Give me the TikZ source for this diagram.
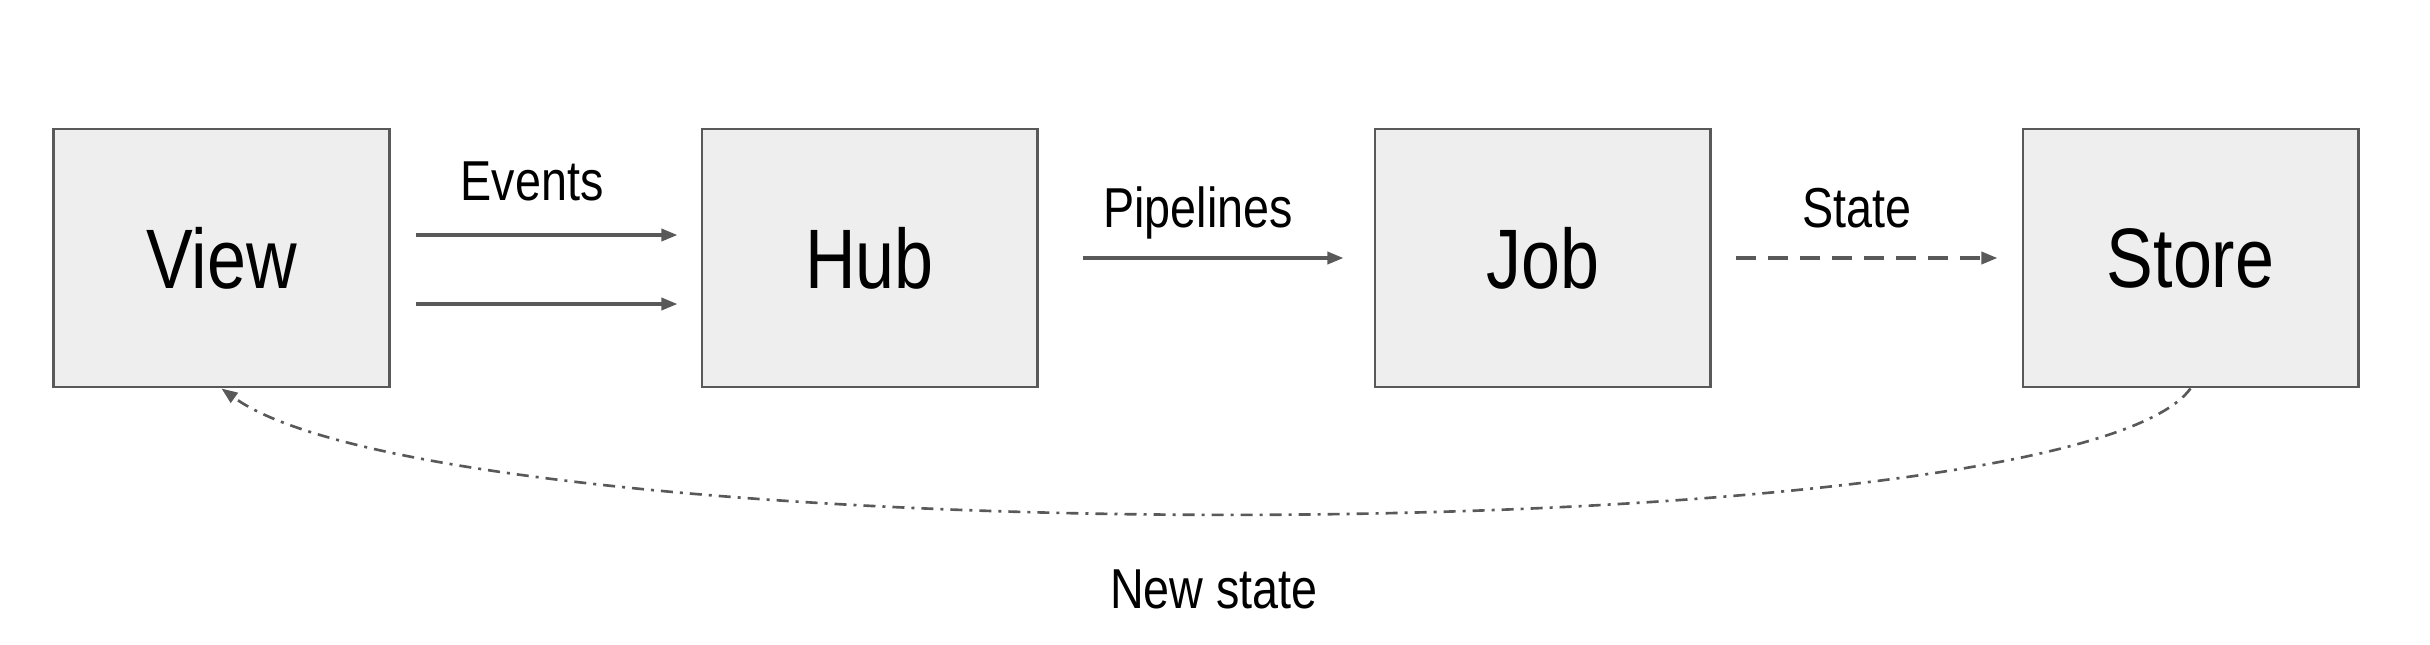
\documentclass[tikz,border=0pt]{standalone}
\usepackage{fontspec}
\setmainfont[FakeStretch=0.83]{Liberation Sans}
\usepackage{tikz}
\usetikzlibrary{arrows.meta,positioning,calc}
\definecolor{boxFill}{HTML}{EEEEEE}
\definecolor{lineGray}{HTML}{595959}
\tikzset{
	cbox/.style={
		draw=lineGray,
		fill=boxFill,
		line width=0.8pt,
		minimum width=3.35cm,
		minimum height=2.58cm,
		inner sep=0pt,
		font=\fontsize{24}{28}\selectfont
	},
	clabel/.style={anchor=base, inner sep=0pt, font=\fontsize{16}{19}\selectfont},
	carr/.style={-{Triangle[length=0.16cm, width=0.12cm]}, line width=0.95pt, lineGray}
}
\begin{document}
\begin{tikzpicture}[x=0.01cm, y=0.01cm]
		\useasboundingbox (0,0) rectangle (2430,644);
		\node[cbox] (view) at (221.5,386) {View};
		\node[cbox] (hub) at (869.5,386) {Hub};
		\node[cbox] (job) at (1542.5,386) {Job};
		\node[cbox] (store) at (2190.5,386) {Store};
		\node[clabel] (events) at (532,444) {Events};
		\node[clabel] (pipes) at (1198,417) {Pipelines};
		\node[clabel] (state) at (1857,417) {State};
		\node[clabel] (newstate) at (1214,36) {New state};
		\draw[carr, shorten <=0.25cm, shorten >=0.23cm] ($(view.east)+(0,23)$) -- ($(hub.west)+(0,23)$);
		\draw[carr, shorten <=0.25cm, shorten >=0.23cm] ($(view.east)+(0,-46)$) -- ($(hub.west)+(0,-46)$);
		\draw[carr, shorten <=0.44cm, shorten >=0.30cm] (hub) -- (job);
		\draw[carr, dash pattern=on 0.2cm off 0.12cm, shorten <=0.24cm, shorten >=0.24cm] (job) -- (store);
		\draw[carr, line width=0.75pt, dash pattern=on 0.12cm off 0.07cm on 0.03cm off 0.07cm]
			(store.south) .. controls +(-121,-167) and +(230,-167) .. (view.south);
	\end{tikzpicture}
\end{document}
